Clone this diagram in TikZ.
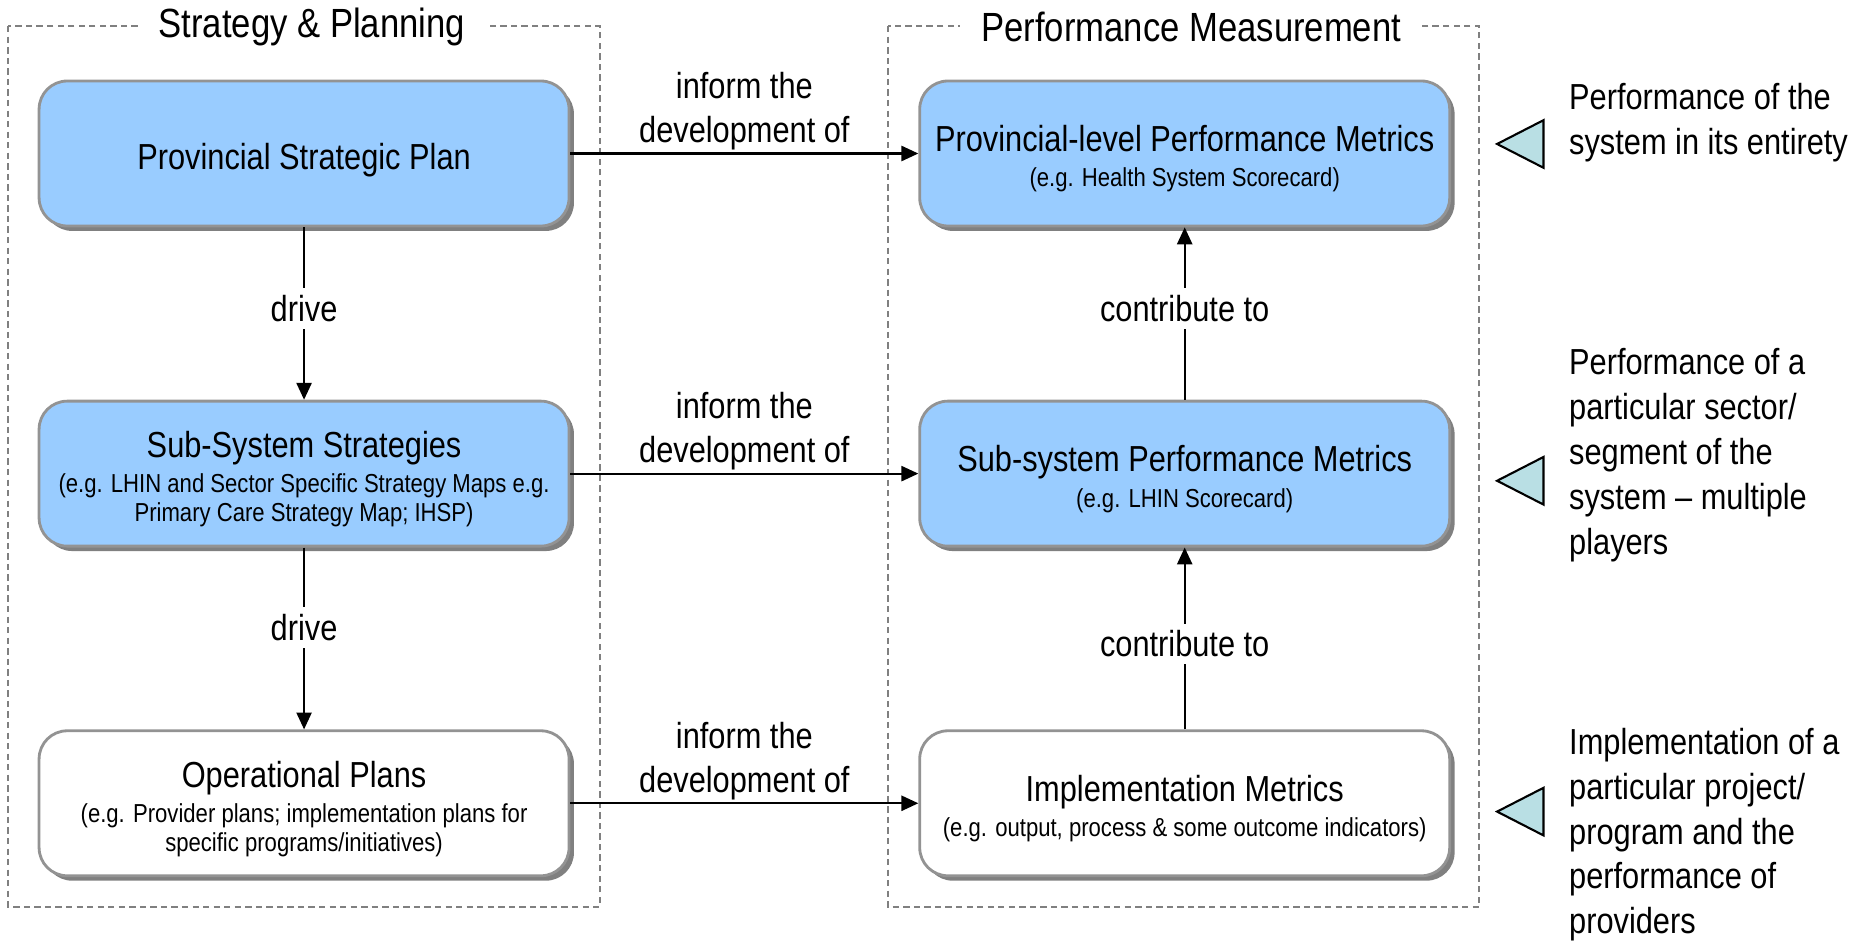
\documentclass[tikz,border=0pt]{standalone}
\usepackage{fontspec}
\setmainfont{Liberation Sans}[FakeStretch=0.85]
\usetikzlibrary{positioning,arrows.meta,shadows}
\tikzset{>={Triangle[length=4.8pt,width=4.3pt]}}
\definecolor{planblue}{HTML}{99CCFF}
\definecolor{markcyan}{HTML}{B9DFE4}
\newcommand\head[1]{\rule{0pt}{11.5pt}#1}
\newcommand\eg[1]{{\fontsize{7.4}{8.2}\selectfont\begin{tabular}[t]{@{}c@{}}#1\end{tabular}}}
\tikzset{
  planframe/.style={draw=gray,dash pattern=on 1.8pt off 1.2pt,line width=0.5pt},
  frametitle/.style={fill=white,inner xsep=6pt,font=\fontsize{11.6}{13}\selectfont},
  plan/.style={draw=gray!85,line width=0.8pt,rounded corners=8pt,minimum width=5.3cm,minimum height=1.45cm,
    align=center,font=\fontsize{10.3}{10}\selectfont,execute at begin node={\rule{0pt}{11pt}},
    drop shadow={shadow xshift=1.4pt,shadow yshift=-1.4pt,fill=gray,opacity=1}},
  blueplan/.style={plan,fill=planblue},
  whiteplan/.style={plan,fill=white},
  link/.style={->,line width=0.6pt},
  informs/.style={above,align=center,inner sep=0.6pt,font=\fontsize{10.3}{12.6}\selectfont},
  verblabel/.style={fill=white,inner sep=2pt,font=\fontsize{10.3}{12.6}\selectfont},
  sidenote/.style={anchor=north west,inner sep=0pt,align=left,font=\fontsize{10.3}{12.8}\selectfont},
  marker/.style={draw,fill=markcyan,line width=0.6pt}
}

\begin{document}
\begin{tikzpicture}[x=0.0119cm,y=-0.0119cm]
\useasboundingbox (0,0) rectangle (1568,790);
\draw[planframe] (7,22) rectangle (504,762);
\draw[planframe] (746,22) rectangle (1243,762);
\node[frametitle] (sptitle) at (262,23) {Strategy \& Planning};
\node[frametitle] (pmtitle) at (1001,23) {Performance Measurement};

\node[blueplan] (psp) at (255.5,129) {Provincial Strategic Plan};
\node[blueplan] (sss) at (255.5,398) {\head{Sub-System Strategies}\\\eg{(e.g. LHIN and Sector Specific Strategy Maps e.g.\\Primary Care Strategy Map; IHSP)}};
\node[whiteplan] (op) at (255.5,675) {\head{Operational Plans}\\\eg{(e.g. Provider plans; implementation plans for\\specific programs/initiatives)}};

\node[blueplan] (ppm) at (995.5,129) {\head{Provincial-level Performance Metrics}\\\eg{(e.g. Health System Scorecard)}};
\node[blueplan] (spm) at (995.5,398) {\head{Sub-system Performance Metrics}\\\eg{(e.g. LHIN Scorecard)}};
\node[whiteplan] (im) at (995.5,675) {\head{Implementation Metrics}\\\eg{(e.g. output, process \& some outcome indicators)}};

\draw[link] (psp) -- node[verblabel,pos=0.47] {drive} (sss);
\draw[link] (sss) -- node[verblabel,pos=0.44] {drive} (op);
\draw[link] (spm) -- node[verblabel,pos=0.53] {contribute to} (ppm);
\draw[link] (im) -- node[verblabel,pos=0.47] {contribute to} (spm);
\draw[link] (psp) -- node[informs] {inform the\\development of} (ppm);
\draw[link] (sss) -- node[informs] {inform the\\development of} (spm);
\draw[link] (op) -- node[informs] {inform the\\development of} (im);

\foreach \y in {121,404,682}
  \draw[marker] (1258,\y) -- ++(39,-20) -- ++(0,40) -- cycle;
\node[sidenote] (whole) at (1318,69) {Performance of the\\system in its entirety};
\node[sidenote] (sector) at (1318,292) {Performance of a\\particular sector/\\segment of the\\system -- multiple\\players};
\node[sidenote] (project) at (1318,611) {Implementation of a\\particular project/\\program and the\\performance of\\providers};
\end{tikzpicture}
\end{document}
